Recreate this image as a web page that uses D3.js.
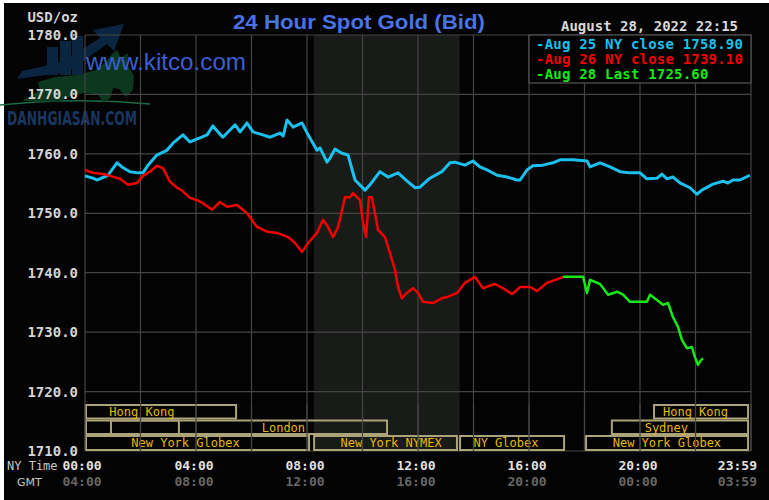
<!DOCTYPE html>
<html><head><meta charset="utf-8">
<script src="https://cdn.jsdelivr.net/npm/d3@7/dist/d3.min.js"></script>
<style>html,body{margin:0;padding:0;background:#fff;}svg{display:block;}</style>
</head><body>
<script>
// ---------- DATA ----------
const yTicks = [1710, 1720, 1730, 1740, 1750, 1760, 1770, 1780];
const nyTimeTicks = [0, 4, 8, 12, 16, 20, 24];
const nyTimeLabels = ["00:00", "04:00", "08:00", "12:00", "16:00", "20:00", "23:59"];
const gmtLabels = ["04:00", "08:00", "12:00", "16:00", "20:00", "00:00", "03:59"];
const legendLabels = ["-Aug 25 NY close 1758.90", "-Aug 26 NY close 1739.10", "-Aug 28 Last 1725.60"];
const nymexHours = [8.25, 13.5];

// [hour, price]
const aug25 = [[0.00,1756.3],[0.29,1755.9],[0.43,1755.6],[0.83,1756.4],[1.15,1758.5],[1.33,1757.8],[1.62,1757.0],[1.91,1756.8],[2.09,1756.8],[2.27,1758.1],[2.59,1759.8],[2.95,1760.6],[3.17,1761.8],[3.53,1763.2],[3.78,1762.0],[4.14,1762.7],[4.40,1763.2],[4.61,1764.7],[4.79,1763.7],[4.97,1762.8],[5.41,1764.9],[5.59,1763.7],[5.84,1765.2],[6.05,1763.7],[6.41,1763.2],[6.67,1762.8],[7.03,1763.5],[7.14,1763.0],[7.28,1765.7],[7.50,1764.5],[7.82,1765.2],[8.04,1763.2],[8.36,1760.6],[8.47,1761.0],[8.72,1758.6],[8.83,1759.3],[9.01,1760.8],[9.26,1760.1],[9.48,1759.8],[9.73,1755.6],[10.09,1753.9],[10.27,1754.8],[10.63,1757.0],[10.92,1756.1],[11.28,1756.8],[11.64,1755.3],[11.89,1754.3],[12.07,1754.4],[12.43,1755.9],[12.86,1757.0],[13.15,1758.5],[13.33,1758.6],[13.69,1758.1],[13.98,1758.8],[14.23,1757.8],[14.49,1757.3],[14.85,1756.4],[15.21,1756.1],[15.57,1755.6],[15.68,1755.6],[15.93,1757.3],[16.14,1758.0],[16.50,1758.1],[16.86,1758.5],[17.12,1759.0],[17.59,1759.0],[18.09,1758.8],[18.20,1757.8],[18.56,1758.5],[18.92,1757.8],[19.28,1757.0],[19.64,1756.8],[20.00,1756.8],[20.25,1755.8],[20.61,1755.9],[20.79,1756.6],[20.97,1755.8],[21.19,1756.1],[21.44,1755.1],[21.80,1754.3],[22.05,1753.2],[22.23,1753.9],[22.63,1754.9],[22.99,1755.4],[23.17,1755.1],[23.35,1755.6],[23.60,1755.6],[23.96,1756.4]];

const aug26 = [[0.00,1757.3],[0.29,1756.8],[0.65,1756.6],[0.90,1756.3],[1.26,1755.8],[1.55,1754.8],[1.87,1755.1],[2.09,1756.3],[2.34,1757.0],[2.59,1758.0],[2.81,1757.6],[3.06,1755.3],[3.32,1754.3],[3.50,1753.8],[3.78,1752.6],[4.04,1752.2],[4.25,1751.7],[4.58,1750.6],[4.86,1751.9],[5.12,1751.1],[5.48,1751.4],[5.84,1750.0],[6.20,1747.7],[6.56,1746.9],[6.92,1746.7],[7.32,1746.0],[7.57,1745.0],[7.82,1743.5],[8.04,1745.0],[8.36,1746.7],[8.58,1748.9],[8.72,1748.0],[8.94,1746.0],[9.12,1747.7],[9.37,1752.7],[9.55,1752.7],[9.66,1753.4],[9.91,1752.2],[10.02,1748.4],[10.13,1746.0],[10.23,1752.7],[10.34,1752.7],[10.56,1747.2],[10.81,1746.0],[10.99,1743.3],[11.17,1740.5],[11.28,1737.6],[11.42,1735.7],[11.60,1736.6],[11.82,1737.4],[12.00,1736.6],[12.18,1735.1],[12.54,1734.9],[12.86,1735.7],[13.05,1735.9],[13.41,1736.6],[13.69,1738.3],[14.05,1739.3],[14.34,1737.4],[14.77,1738.1],[15.06,1737.4],[15.39,1736.4],[15.68,1737.6],[16.04,1737.6],[16.29,1736.9],[16.65,1738.3],[17.01,1738.9],[17.23,1739.3]];

const aug28 = [[17.23,1739.3],[17.95,1739.3],[18.09,1736.6],[18.20,1738.8],[18.56,1738.1],[18.85,1736.3],[19.17,1736.8],[19.39,1736.3],[19.64,1735.1],[20.25,1735.1],[20.36,1736.3],[20.61,1735.4],[20.83,1734.6],[21.01,1734.9],[21.19,1732.5],[21.37,1730.9],[21.51,1728.7],[21.69,1727.3],[21.87,1727.5],[21.98,1725.8],[22.09,1724.5],[22.20,1725.3],[22.27,1725.6]];

// sessions: row, start hour, end hour, label, label centre hour
const sessions = [
  {row:0, start:0,     end:5.48,  label:"Hong Kong",       at:2.05},
  {row:0, start:20.47, end:23.93, label:"Hong Kong",       at:22.0},
  {row:1, start:0,     end:10.92, label:"London",          at:7.15},
  {row:1, start:0.9,   end:3.42,  label:"",                at:2.1},
  {row:1, start:18.95, end:23.93, label:"Sydney",          at:20.95},
  {row:2, start:0,     end:8.11,  label:"New York Globex", at:3.62},
  {row:2, start:8.22,  end:13.44, label:"New York NYMEX",  at:11.03},
  {row:2, start:13.48, end:17.3,  label:"NY Globex",       at:15.17},
  {row:2, start:18.02, end:23.93, label:"New York Globex", at:20.97}
];

// ---------- DRAW ----------
const W = 769, H = 500;
const L = 85, R = 751, T = 35, B = 451;
const mono = "'DejaVu Sans Mono', monospace";

const svg = d3.select("body").append("svg").attr("width", W).attr("height", H);
svg.append("rect").attr("width", W).attr("height", H).attr("fill", "#fff");
svg.append("rect").attr("x", 4).attr("y", 3).attr("width", W - 4).attr("height", H - 3).attr("fill", "#030303");

const x = d3.scaleLinear().domain([0, 24]).range([L, R]);
const y = d3.scaleLinear().domain([1710, 1780]).range([B, T]);

// shaded NYMEX
svg.append("rect").attr("x", x(nymexHours[0])).attr("y", T).attr("width", x(nymexHours[1]) - x(nymexHours[0]))
  .attr("height", B - T).attr("fill", "#181b18");

// watermark logo
const wm = svg.append("g");
wm.append("path").attr("d", "M0,105 Q75,97 150,104").attr("fill", "none").attr("stroke", "#1f6a45").attr("stroke-width", 1.3);
wm.append("path").attr("d", "M22,101 L40,90 L38,82 L55,77 L78,75 L96,70 L106,62 L112,54 L117,50 L121,58 L128,53 L127,64 L134,76 L133,90 L126,97 L119,89 L113,88 L111,97 L104,103 L98,95 L86,93 L72,95 L60,102 Z")
  .attr("fill", "#0c3820");
[[47,47,11],[60,41,11],[72,36,11]].forEach(b => wm.append("rect").attr("x", b[0]).attr("y", b[1]).attr("width", b[2]).attr("height", 75 - b[1]).attr("fill", "#0a2540"));
wm.append("path").attr("d", "M17,79 L22,71 L62,62 L100,38 L93,30 L124,24 L114,51 L107,44 L68,72 Z").attr("fill", "#0a2540");
wm.append("text").attr("x", 7).attr("y", 125).attr("textLength", 130).attr("lengthAdjust", "spacingAndGlyphs")
  .attr("font-family", "'DejaVu Sans Condensed', 'DejaVu Sans', sans-serif").attr("font-weight", "bold").attr("font-size", 20)
  .attr("fill", "#183660").text("DANHGIASAN.COM");

// grid
const g = svg.append("g").attr("stroke", "#444").attr("stroke-width", 1.2);
d3.range(0, 25, 2).forEach(h => g.append("line").attr("x1", x(h)).attr("x2", x(h)).attr("y1", T).attr("y2", B));
yTicks.forEach(v => g.append("line").attr("x1", L).attr("x2", R).attr("y1", y(v)).attr("y2", y(v)));

// kitco text
svg.append("text").attr("x", 86).attr("y", 70).attr("textLength", 160).attr("lengthAdjust", "spacingAndGlyphs")
  .attr("font-family", "'Liberation Sans', Arial, sans-serif")
  .attr("font-size", 24).attr("fill", "#3c5fd2").text("www.kitco.com");

// sessions
const rowTop = [404, 419.5, 435], rowH = [15.5, 15.5, 16];
const sg = svg.append("g");
sessions.forEach(s => {
  const x0 = x(s.start), x1 = x(s.end);
  sg.append("rect").attr("x", x0 + 1).attr("y", rowTop[s.row] + 1).attr("width", x1 - x0 - 2).attr("height", rowH[s.row] - 2)
    .attr("fill", "none").attr("stroke", "#aca478").attr("stroke-width", 2);
  if (s.label) sg.append("text").attr("x", x(s.at)).attr("y", rowTop[s.row] + 12).attr("text-anchor", "middle")
    .attr("font-family", mono).attr("font-size", 12).attr("fill", "#e8b800").text(s.label);
});
// vertical grid over sessions
const g2 = svg.append("g").attr("stroke", "#444").attr("stroke-width", 1.2);
d3.range(0, 25, 2).forEach(h => g2.append("line").attr("x1", x(h)).attr("x2", x(h)).attr("y1", 404).attr("y2", B));

// lines
const line = d3.line().x(d => x(d[0])).y(d => y(d[1]));
svg.append("path").datum(aug25).attr("d", line).attr("fill", "none").attr("stroke", "#1cc0ee").attr("stroke-width", 3).attr("stroke-linejoin", "round");
svg.append("path").datum(aug26).attr("d", line).attr("fill", "none").attr("stroke", "#f20000").attr("stroke-width", 2.5).attr("stroke-linejoin", "round");
svg.append("path").datum(aug28).attr("d", line).attr("fill", "none").attr("stroke", "#18e818").attr("stroke-width", 2.5).attr("stroke-linejoin", "round");

// legend
svg.append("rect").attr("x", 529).attr("y", T).attr("width", R - 529).attr("height", 48).attr("fill", "#030303").attr("stroke", "#555").attr("stroke-width", 1.2);
const legColors = ["#1cc0ee", "#f20000", "#18e818"];
legendLabels.forEach((t, i) => svg.append("text").attr("x", 536).attr("y", 49 + i * 15)
  .attr("font-family", mono).attr("font-weight", "bold").attr("font-size", 14).attr("letter-spacing", 0.2)
  .attr("fill", legColors[i]).text(t));

// title & date
svg.append("text").attr("x", 233).attr("y", 29).attr("textLength", 252).attr("lengthAdjust", "spacingAndGlyphs")
  .attr("font-family", "'Liberation Sans', Arial, sans-serif")
  .attr("font-weight", "bold").attr("font-size", 21).attr("fill", "#4a72e4").text("24 Hour Spot Gold (Bid)");
svg.append("text").attr("x", 738).attr("y", 31).attr("text-anchor", "end").attr("font-family", mono).attr("font-weight", "bold")
  .attr("font-size", 14).attr("fill", "#d8d8d8").text("August 28, 2022 22:15");

// y labels
svg.append("text").attr("x", 78).attr("y", 22).attr("text-anchor", "end").attr("font-family", mono).attr("font-weight", "bold")
  .attr("font-size", 14).attr("fill", "#d4d4d4").text("USD/oz");
yTicks.forEach(v => svg.append("text").attr("x", 78).attr("y", y(v) + 5).attr("text-anchor", "end")
  .attr("font-family", mono).attr("font-weight", "bold").attr("font-size", 14).attr("fill", "#d4d4d4").text(d3.format(".1f")(v)));

// x labels
svg.append("text").attr("x", 7).attr("y", 470).attr("font-family", mono).attr("font-size", 12).attr("fill", "#c8c8c8").text("NY Time");
svg.append("text").attr("x", 17).attr("y", 486).attr("font-family", "'DejaVu Sans', sans-serif").attr("font-size", 11).attr("fill", "#c8c8c8").text("GMT");
nyTimeTicks.forEach((h, i) => {
  const last = i === nyTimeTicks.length - 1;
  const px = last ? 757 : (i === 0 ? x(h) - 3 : x(h) - 2);
  svg.append("text").attr("x", px).attr("y", 470).attr("text-anchor", last ? "end" : "middle")
    .attr("font-family", mono).attr("font-weight", "bold").attr("font-size", 13).attr("fill", "#e0e0e0").text(nyTimeLabels[i]);
  svg.append("text").attr("x", px).attr("y", 486).attr("text-anchor", last ? "end" : "middle")
    .attr("font-family", mono).attr("font-weight", "bold").attr("font-size", 13).attr("fill", "#666").text(gmtLabels[i]);
});
</script>
</body></html>
